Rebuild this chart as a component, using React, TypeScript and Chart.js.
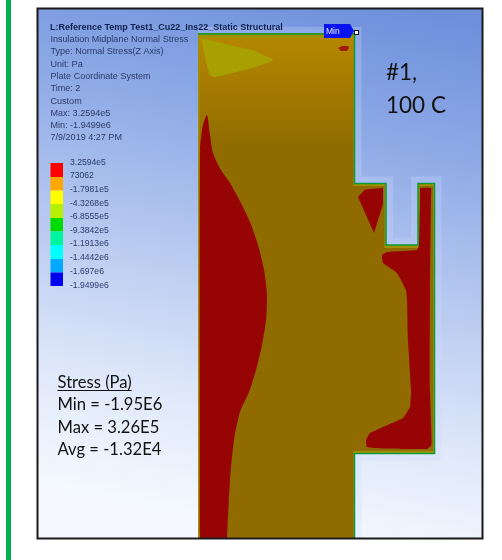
import React, { useEffect, useRef } from "react";
import { Chart, registerables } from "chart.js";

Chart.register(...registerables);

type Pt = [number, number];

const headerLines = [
  "Insulation Midplane Normal Stress",
  "Type: Normal Stress(Z Axis)",
  "Unit: Pa",
  "Plate Coordinate System",
  "Time: 2",
  "Custom",
  "Max: 3.2594e5",
  "Min: -1.9499e6",
  "7/9/2019 4:27 PM",
];
const headerRows = [40, 52, 64.5, 77, 89, 101.5, 113.5, 126, 138];
const legendLabels = ["3.2594e5", "73062", "-1.7981e5", "-4.3268e5", "-6.8555e5", "-9.3842e5", "-1.1913e6", "-1.4442e6", "-1.697e6", "-1.9499e6"];
const legendRows = [162.5, 176, 190, 203.5, 217, 230.5, 244, 258, 272, 286];
const legendColors = ["#ff0000", "#ffa600", "#ffff00", "#b4f000", "#00dc00", "#00f5a0", "#00ffff", "#00a8ff", "#0000f0"];
const legendEdges = [163, 177, 190.5, 204, 218, 231.5, 245, 259, 272.5, 286];
const legendSpan = [50.5, 63];
const statLines = ["Stress (Pa)", "Min = -1.95E6", "Max = 3.26E5", "Avg = -1.32E4"];
const statRows = [388, 410, 432.5, 455];

const bodyEdge: Pt[] = [[198, 33], [354.5, 33], [354.5, 183], [386, 183], [386, 245], [418, 245], [418, 183], [434.5, 183], [434.5, 453.5], [354.5, 453.5], [354.5, 538], [198, 538]];
const bodyInner: Pt[] = [[199.5, 38], [353.5, 38], [353.5, 186], [384.5, 186], [384.5, 248], [419.5, 248], [419.5, 186], [433, 186], [433, 451], [353.5, 451], [353.5, 538], [199.5, 538]];
const greenEdge: Pt[] = [[198, 34], [354.5, 34], [354.5, 183.5], [386, 183.5], [386, 245], [418, 245], [418, 183.5], [434.5, 183.5], [434.5, 453.5], [354.5, 453.5], [354.5, 538]];
const leftRed: Pt[] = [[200, 538], [200, 150], [203, 125], [207, 115], [210, 135], [213, 153], [221, 170], [230, 183], [241, 203], [250, 222], [258, 245], [264, 270], [267, 295], [266, 320], [262, 345], [256, 370], [249, 392], [240, 412], [234, 440], [230, 480], [227, 538]];
const shoulderRed: Pt[] = [[358, 197], [365, 189.5], [383, 188], [383, 204], [374, 233]];
const lowerRed: Pt[] = [[420, 188], [431, 188], [431, 200], [430, 290], [430, 390], [431, 423], [431.5, 445], [427, 449], [383, 448.5], [367, 447], [366, 440], [370, 433], [383, 427], [403, 418], [410, 407], [411, 390], [408, 340], [407, 300], [406, 290], [397, 273], [383, 263], [382, 255], [387, 252], [417, 250], [419, 245], [420, 200]];
const topRed: Pt[] = [[338, 48], [342, 46], [348, 46], [349, 48], [347, 51], [341, 51]];
const yellowPatch: Pt[] = [[201.5, 38], [238, 47], [252, 50], [273, 60], [252, 68], [215, 77], [210, 75], [205, 58]];
const minTag: Pt[] = [[324, 24], [350, 24], [354, 31], [350, 38], [324, 38]];

const poly = (pts: Pt[], color: any, tension = 0) => ({
  data: pts.map(([x, y]) => ({ x, y })),
  showLine: true,
  fill: "shape" as const,
  backgroundColor: color,
  borderWidth: 0,
  pointRadius: 0,
  tension,
});
const stroke = (pts: Pt[], color: string, width: number) => ({
  data: pts.map(([x, y]) => ({ x, y })),
  showLine: true,
  fill: false,
  borderColor: color,
  borderWidth: width,
  pointRadius: 0,
  tension: 0,
  borderJoinStyle: "miter" as const,
});

const frame = {
  id: "frame",
  beforeDraw(chart: Chart) {
    const c = chart.ctx;
    c.save();
    c.fillStyle = "#ffffff";
    c.fillRect(0, 0, 502, 560);
    c.fillStyle = "#00b050";
    c.fillRect(6, 0, 5, 560);
    const g = c.createLinearGradient(400, 8, 290, 538);
    g.addColorStop(0, "#6e90dc");
    g.addColorStop(0.25, "#8eaae6");
    g.addColorStop(0.55, "#bccdf1");
    g.addColorStop(0.78, "#dfe8fa");
    g.addColorStop(1, "#f5f9ff");
    c.fillStyle = g;
    c.fillRect(37, 8, 446, 530);
    c.restore();
  },
  afterDraw(chart: Chart) {
    const c = chart.ctx;
    c.save();
    c.strokeStyle = "#1a1a1a";
    c.lineWidth = 2;
    c.strokeRect(37.5, 8.5, 445, 530);
    c.fillStyle = "#ffffff";
    c.strokeStyle = "#111111";
    c.lineWidth = 1;
    c.fillRect(354.5, 30.5, 4, 4);
    c.strokeRect(354.5, 30.5, 4, 4);

    c.textBaseline = "middle";
    c.textAlign = "left";
    c.filter = "blur(0.45px)";
    c.fillStyle = "#10214f";
    c.font = 'bold 9px "Liberation Sans"';
    c.fillText("L:Reference Temp Test1_Cu22_Ins22_Static Structural", 50, 28);
    c.fillStyle = "#2a3b6b";
    c.font = '9.05px "Liberation Sans"';
    headerLines.forEach((t, i) => c.fillText(t, 50.5, headerRows[i]));
    c.font = '8.6px "Liberation Sans"';
    legendLabels.forEach((t, i) => c.fillText(t, 70, legendRows[i]));
    c.fillStyle = "#e8eeff";
    c.font = '8.5px "Liberation Sans"';
    c.fillText("Min", 326, 31.5);
    c.filter = "none";

    c.fillStyle = "#111111";
    c.textBaseline = "alphabetic";
    c.font = "22.5px Lato";
    c.fillText("#1,", 386, 80);
    c.fillText("100 C", 386, 113);
    c.font = "16.6px Lato";
    statLines.forEach((t, i) => c.fillText(t, 57.5, statRows[i]));
    c.fillRect(57.5, 390, c.measureText(statLines[0]).width, 1);
    c.restore();
  },
};

export default function App() {
  const ref = useRef<HTMLCanvasElement>(null);
  useEffect(() => {
    document.body.style.margin = "0";
    if (!ref.current) return;
    const ctx = ref.current.getContext("2d")!;
    const bodyFill = ctx.createLinearGradient(0, 38, 0, 150);
    bodyFill.addColorStop(0, "#b58700");
    bodyFill.addColorStop(1, "#8f6b00");
    const swatches = legendColors.map((col, i) =>
      poly(
        [
          [legendSpan[0], legendEdges[i]],
          [legendSpan[1], legendEdges[i]],
          [legendSpan[1], legendEdges[i + 1]],
          [legendSpan[0], legendEdges[i + 1]],
        ],
        col,
      ),
    );
    const layers = [
      stroke(greenEdge, "rgba(205,218,250,0.28)", 14),
      poly(bodyEdge, "#a29000"),
      poly(bodyInner, bodyFill),
      stroke(greenEdge, "#0a9a3c", 1.5),
      poly(yellowPatch, "#a8a000", 0.15),
      poly(leftRed, "#970404", 0.25),
      poly(shoulderRed, "#970404"),
      poly(lowerRed, "#970404", 0.1),
      poly(topRed, "#a01a08"),
      poly(minTag, "#0a14f0"),
      ...swatches,
    ];
    const chart = new Chart(ref.current, {
      type: "scatter",
      data: { datasets: layers.slice().reverse() as any },
      options: {
        animation: false,
        responsive: false,
        layout: { padding: 0 },
        plugins: { legend: { display: false }, tooltip: { enabled: false } },
        scales: {
          x: { type: "linear", min: 0, max: 502, display: false },
          y: { type: "linear", min: 0, max: 560, reverse: true, display: false },
        },
      },
      plugins: [frame],
    });
    return () => chart.destroy();
  }, []);
  return (
    <div style={{ width: 502, height: 560 }}>
      <canvas ref={ref} width={502} height={560} style={{ display: "block" }} />
    </div>
  );
}
